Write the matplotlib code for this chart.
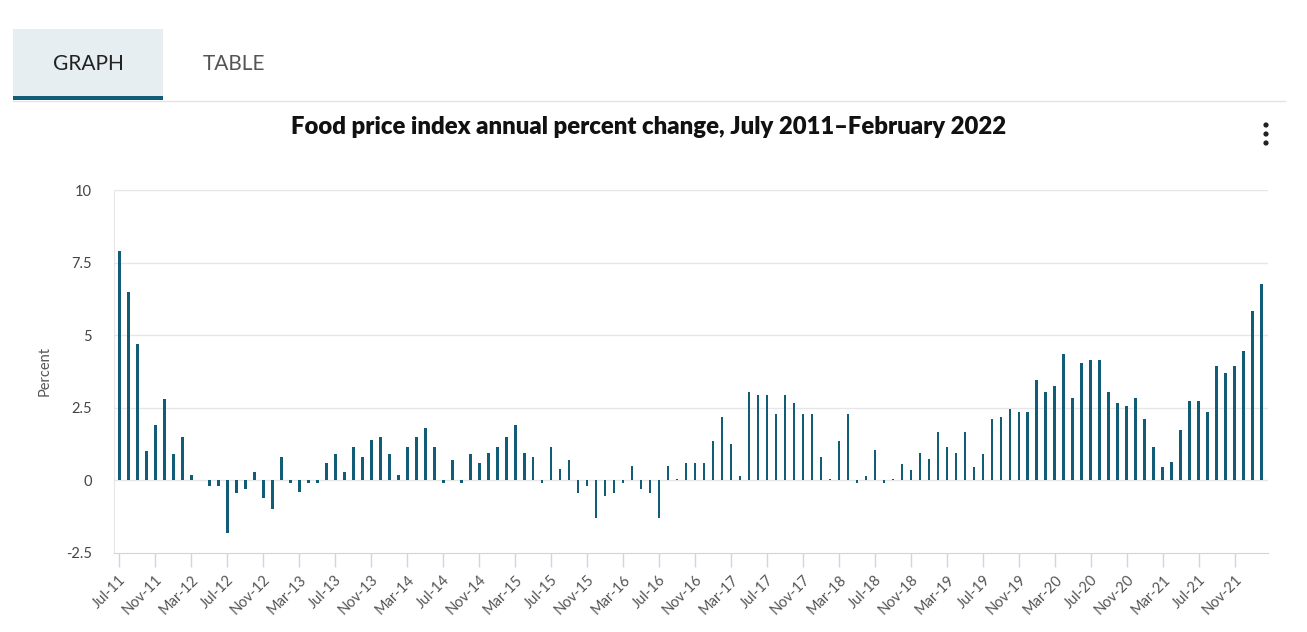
import matplotlib
matplotlib.use("Agg")
import matplotlib.pyplot as plt
from matplotlib.patches import Rectangle, Circle
import numpy as np

# monthly annual percent change, Jul-2011 .. Feb-2022 (128 months)
values = [
    7.9, 6.5, 4.7, 1.0, 1.9, 2.8, 0.9, 1.5, 0.2, 0.0, -0.2, -0.2,   # Jul-11..Jun-12
    -1.8, -0.45, -0.3, 0.3, -0.6, -1.0, 0.8, -0.1, -0.4, -0.1, -0.1, 0.6,  # Jul-12..Jun-13
    0.9, 0.3, 1.15, 0.8, 1.4, 1.5, 0.9, 0.2, 1.15, 1.5, 1.8, 1.15,  # Jul-13..Jun-14
    -0.1, 0.7, -0.1, 0.9, 0.6, 0.95, 1.15, 1.5, 1.9, 0.95, 0.8, -0.1,  # Jul-14..Jun-15
    1.15, 0.4, 0.7, -0.45, -0.2, -1.3, -0.55, -0.45, -0.1, 0.5, -0.3, -0.45,  # Jul-15..Jun-16
    -1.3, 0.5, 0.05, 0.6, 0.6, 0.6, 1.35, 2.2, 1.25, 0.15, 3.05, 2.95,  # Jul-16..Jun-17
    2.95, 2.3, 2.95, 2.65, 2.3, 2.3, 0.8, 0.05, 1.35, 2.3, -0.1, 0.15,  # Jul-17..Jun-18
    1.05, -0.1, 0.05, 0.55, 0.35, 0.95, 0.75, 1.65, 1.15, 0.95, 1.65, 0.45,  # Jul-18..Jun-19
    0.9, 2.1, 2.2, 2.45, 2.35, 2.35, 3.45, 3.05, 3.25, 4.35, 2.85, 4.05,  # Jul-19..Jun-20
    4.15, 4.15, 3.05, 2.65, 2.55, 2.85, 2.1, 1.15, 0.45, 0.65, 1.75, 2.75,  # Jul-20..Jun-21
    2.75, 2.35, 3.95, 3.7, 3.95, 4.45, 5.85, 6.75,  # Jul-21..Feb-22
]
months = ["Jan", "Feb", "Mar", "Apr", "May", "Jun",
          "Jul", "Aug", "Sep", "Oct", "Nov", "Dec"]
labels = []
for i in range(len(values)):
    m = 6 + i
    labels.append("%s-%02d" % (months[m % 12], 11 + m // 12))

yticks = [-2.5, 0, 2.5, 5, 7.5, 10]
ytick_labels = ["-2.5", "0", "2.5", "5", "7.5", "10"]

W, H = 1307, 632
bar_color = "#115d77"
axis_color = "#ccd6eb"
grid_color = "#e6e6e6"
font = ["Lato", "DejaVu Sans"]

fig = plt.figure(figsize=(W / 100, H / 100), dpi=100)

# page furniture: tabs, title, menu dots (pixel coordinates)
bg = fig.add_axes([0, 0, 1, 1])
bg.set_xlim(0, W)
bg.set_ylim(H, 0)
bg.axis("off")
bg.add_patch(Rectangle((13, 29), 150, 69, color="#e6eef2", lw=0))
bg.plot([13, 1285], [100.5, 100.5], color="#e4e4e4", lw=1)
bg.add_patch(Rectangle((13, 96), 150, 4, color=bar_color, lw=0))
bg.text(88, 64, "GRAPH", ha="center", va="center", fontsize=15,
        color="#222222", family=font)
bg.text(234, 64, "TABLE", ha="center", va="center", fontsize=15,
        color="#555555", family=font)
bg.text(649, 127, "Food price index annual percent change, July 2011\u2013February 2022",
        ha="center", va="center", fontsize=17.2, fontweight="heavy",
        color="#111111", family=font)
for yy in (125, 134, 143):
    bg.add_patch(Circle((1266, yy), 2.6, color="#222222", lw=0))

# chart area
left, right, top, bottom = 114, 1268, 190, 553
ax = fig.add_axes([left / W, (H - bottom) / H, (right - left) / W, (bottom - top) / H])
x = np.arange(len(values))
ax.bar(x, values, width=0.33, color=bar_color, zorder=3)
ax.set_xlim(-0.56, len(values) - 1 + 0.67)
ax.set_ylim(-2.5, 10)

ax.set_yticks(yticks)
ax.set_yticklabels(ytick_labels, family=font, fontsize=10.5, color="#444444")
ax.tick_params(axis="y", length=0, pad=16)
for y in yticks[1:]:
    ax.axhline(y, color=grid_color, lw=1, zorder=1)

ticks = x[::4]
ax.set_xticks(ticks)
ax.set_xticklabels([labels[i] for i in ticks], rotation=45, ha="right",
                   rotation_mode="anchor", family=font, fontsize=10.5,
                   color="#555555")
ax.tick_params(axis="x", length=10, color=axis_color, width=1, pad=4)

for side in ("top", "right"):
    ax.spines[side].set_visible(False)
ax.spines["left"].set_color(grid_color)
ax.spines["bottom"].set_color(axis_color)

ax.set_ylabel("Percent", family=font, fontsize=10.5, color="#555555", labelpad=10)

fig.savefig("out.png", dpi=100)
